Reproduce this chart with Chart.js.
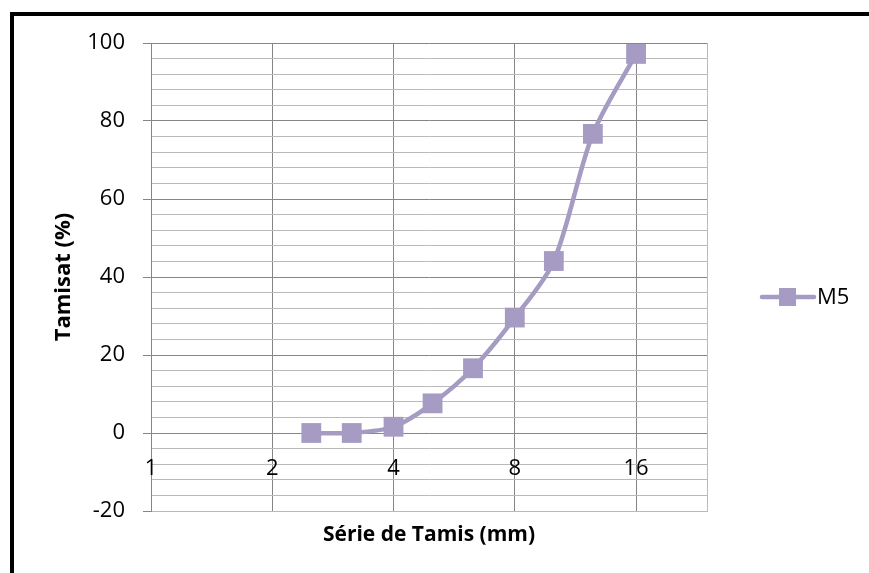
<!DOCTYPE html>
<html>
<head>
<meta charset="utf-8">
<script src="https://cdn.jsdelivr.net/npm/chart.js@4.4.0/dist/chart.umd.min.js"></script>
<style>
    html, body { margin: 0; padding: 0; background: #fff; }
    #wrap { position: relative; width: 869px; height: 573px; overflow: hidden; }
    #frame {
        position: absolute; left: 10px; top: 12px; width: 900px; height: 600px;
        border-top: 4px solid #000; border-left: 4px solid #000;
    }
    canvas { position: absolute; left: 0; top: 0; }
</style>
</head>
<body>
<div id="wrap">
    <div id="frame"></div>
    <canvas id="chart" width="869" height="573"></canvas>
</div>
<script>
// Sieve sizes (mm) and passing percentages for M5
const sieves = [2.5, 3.15, 4, 5, 6.3, 8, 10, 12.5, 16];
const passing = [0, 0, 1.6, 7.6, 16.6, 29.6, 44.1, 76.7, 97.2];
const xTicks = [1, 2, 4, 8, 16];
const seriesName = 'M5';

const LINE = '#a59bc3';
const MAJOR = '#868686';
const MINOR = '#bababa';
const FONT = "'Open Sans', sans-serif";

// x tick labels sit just under the zero line, plus right frame edge and legend
const extras = {
    id: 'extras',
    beforeDatasetsDraw(chart) {
        const { ctx, scales: { x, y } } = chart;
        const ly = y.getPixelForValue(0) + 36;
        ctx.save();
        ctx.fillStyle = '#000';
        ctx.font = '22px ' + FONT;
        ctx.textAlign = 'center';
        ctx.textBaseline = 'middle';
        xTicks.forEach(v => ctx.fillText(String(v), x.getPixelForValue(v), ly));
        ctx.restore();
    },
    afterDraw(chart) {
        const { ctx, chartArea: a } = chart;
        ctx.save();
        ctx.strokeStyle = MINOR;
        ctx.lineWidth = 1;
        ctx.beginPath();
        ctx.moveTo(a.right + 0.5, a.top);
        ctx.lineTo(a.right + 0.5, a.bottom);
        ctx.stroke();

        // legend
        const ly = 297;
        ctx.strokeStyle = LINE;
        ctx.lineWidth = 4.5;
        ctx.lineCap = 'round';
        ctx.beginPath();
        ctx.moveTo(762, ly);
        ctx.lineTo(814, ly);
        ctx.stroke();
        ctx.fillStyle = LINE;
        ctx.fillRect(779, ly - 9, 17, 18);
        ctx.fillStyle = '#000';
        ctx.font = '22px ' + FONT;
        ctx.textBaseline = 'middle';
        ctx.fillText(seriesName, 817, ly + 1);
        ctx.restore();
    }
};

new Chart(document.getElementById('chart'), {
    type: 'line',
    data: {
        datasets: [{
            label: seriesName,
            data: sieves.map((s, i) => ({ x: s, y: passing[i] })),
            borderColor: LINE,
            backgroundColor: LINE,
            borderWidth: 4.5,
            tension: 0.3,
            pointStyle: 'rect',
            pointRadius: 14,
            pointBorderWidth: 0,
            pointBackgroundColor: LINE
        }]
    },
    options: {
        responsive: false,
        animation: false,
        layout: { padding: { top: 43, right: 162, left: 0, bottom: 0 } },
        plugins: {
            legend: { display: false },
            tooltip: { enabled: false }
        },
        scales: {
            x: {
                type: 'logarithmic',
                min: 1,
                max: 24,
                afterBuildTicks: scale => {
                    scale.ticks = xTicks.map(v => ({ value: v }));
                },
                afterFit: scale => { scale.height = 62; },
                grid: { color: MAJOR, drawTicks: false },
                border: { color: MINOR },
                ticks: { display: false },
                title: {
                    display: true,
                    text: 'Série de Tamis (mm)',
                    color: '#000',
                    font: { family: FONT, size: 21, weight: 'bold' },
                    padding: { top: 0, bottom: 25 }
                }
            },
            y: {
                min: -20,
                max: 100,
                afterFit: scale => { scale.width = 151; },
                ticks: {
                    stepSize: 4,
                    autoSkip: false,
                    padding: 18,
                    color: '#000',
                    font: { family: FONT, size: 22 },
                    callback: v => (v % 20 === 0 ? String(v) : '')
                },
                grid: {
                    color: ctx => (ctx.tick && ctx.tick.value % 20 === 0 ? MAJOR : MINOR),
                    tickColor: ctx => (ctx.tick && ctx.tick.value % 20 === 0 ? MAJOR : 'rgba(0,0,0,0)'),
                    tickLength: 8
                },
                border: { color: MAJOR },
                title: {
                    display: true,
                    text: 'Tamisat (%)',
                    color: '#000',
                    font: { family: FONT, size: 22, weight: 'bold' },
                    padding: { top: 51, bottom: 0 }
                }
            }
        }
    },
    plugins: [extras]
});
</script>
</body>
</html>
